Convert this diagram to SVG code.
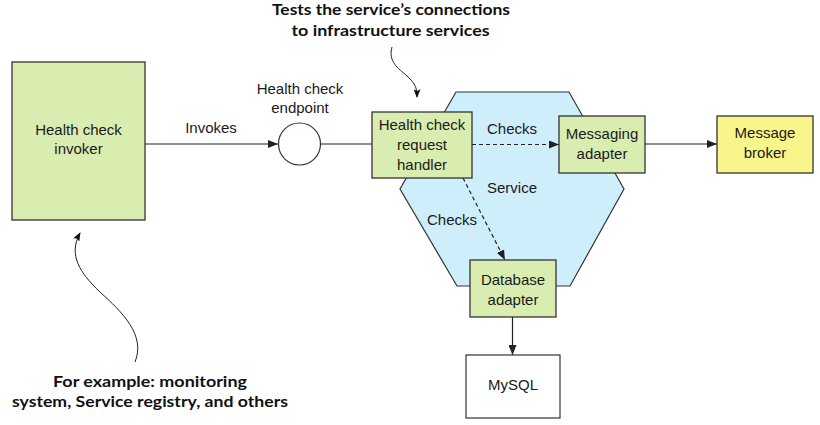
<svg xmlns="http://www.w3.org/2000/svg" width="820" height="425" viewBox="0 0 820 425">
<defs>
<marker id="ah" viewBox="0 0 10 8" refX="10" refY="4" markerWidth="10" markerHeight="8" markerUnits="userSpaceOnUse" orient="auto">
<path d="M0,0 L10,4 L0,8 Z" fill="#222"/>
</marker>
<marker id="ah2" viewBox="0 0 10 8" refX="9" refY="4" markerWidth="9" markerHeight="7" markerUnits="userSpaceOnUse" orient="auto">
<path d="M0,0 L10,4 L0,8 L2,4 Z" fill="#111"/>
</marker>
<style>
.box{fill:#d9edb1;stroke:#333;stroke-width:1.3}
.t{font-family:"Liberation Sans",Arial,sans-serif;font-size:15px;fill:#1a1a1a;text-anchor:middle}
.b{font-family:Lato,"Liberation Sans",sans-serif;font-weight:bold;font-size:16px;fill:#111;text-anchor:middle}
.ln{stroke:#222;stroke-width:1.2;fill:none}
.dash{stroke:#222;stroke-width:1.2;fill:none;stroke-dasharray:4,3}
.cur{stroke:#222;stroke-width:1;fill:none}
</style>
</defs>
<g id="service">
<polygon points="456,92 569,92 624,189 570,286 457,286 400,189" fill="#cdeefa" stroke="#333" stroke-width="1.2"/>
<text class="t" x="512" y="193">Service</text>
</g>
<g id="connectors">
<line class="ln" x1="145" y1="144" x2="278" y2="144" marker-end="url(#ah)"/>
<line class="ln" x1="320" y1="144" x2="372" y2="144"/>
<line class="dash" x1="472" y1="144.5" x2="559" y2="144.5" marker-end="url(#ah)"/>
<line class="dash" x1="463" y1="178" x2="505" y2="260" marker-end="url(#ah)"/>
<line class="ln" x1="645" y1="144" x2="717" y2="144" marker-end="url(#ah)"/>
<line class="ln" x1="512.5" y1="317" x2="512.5" y2="355" marker-end="url(#ah)"/>
<text class="t" x="211" y="133">Invokes</text>
<text class="t" x="512" y="134">Checks</text>
<text class="t" x="452" y="225">Checks</text>
<path class="cur" d="M392,47 C388,62 398,68 407,76 C416,84 417,89 417,97" marker-end="url(#ah2)"/>
<path class="cur" d="M135,362 C146,335 122,312 100,292 C80,273 68,255 80,233" marker-end="url(#ah2)"/>
</g>
<g id="invoker">
<rect class="box" x="12" y="62" width="133" height="158"/>
<text class="t" x="78.5" y="135">Health check</text>
<text class="t" x="78.5" y="154">invoker</text>
</g>
<g id="endpoint">
<circle cx="299.5" cy="144" r="21" fill="#fff" stroke="#333" stroke-width="1.2"/>
<text class="t" x="300" y="94">Health check</text>
<text class="t" x="300" y="113">endpoint</text>
</g>
<g id="handler">
<rect class="box" x="372" y="112" width="100" height="66"/>
<text class="t" x="422" y="129.5">Health check</text>
<text class="t" x="422" y="150">request</text>
<text class="t" x="422" y="169.5">handler</text>
</g>
<g id="messaging">
<rect class="box" x="559" y="116" width="86" height="57"/>
<text class="t" x="602" y="138.5">Messaging</text>
<text class="t" x="602" y="158.5">adapter</text>
</g>
<g id="broker">
<rect x="717" y="116" width="96" height="57" fill="#f8f58b" stroke="#333" stroke-width="1.3"/>
<text class="t" x="765" y="138">Message</text>
<text class="t" x="765" y="158">broker</text>
</g>
<g id="database">
<rect class="box" x="470" y="260" width="86" height="57"/>
<text class="t" x="513" y="285">Database</text>
<text class="t" x="513" y="304.5">adapter</text>
</g>
<g id="mysql">
<rect x="466" y="355" width="94" height="63" fill="#fff" stroke="#333" stroke-width="1.2"/>
<text class="t" x="513" y="390">MySQL</text>
</g>
<g id="note-top">
<text class="b" x="391" y="15" textLength="238" lengthAdjust="spacingAndGlyphs">Tests the service’s connections</text>
<text class="b" x="390.5" y="35.5" textLength="198" lengthAdjust="spacingAndGlyphs">to infrastructure services</text>
</g>
<g id="note-bottom">
<text class="b" x="150" y="387" textLength="194" lengthAdjust="spacingAndGlyphs">For example: monitoring</text>
<text class="b" x="150" y="407" textLength="276" lengthAdjust="spacingAndGlyphs">system, Service registry, and others</text>
</g>
</svg>
